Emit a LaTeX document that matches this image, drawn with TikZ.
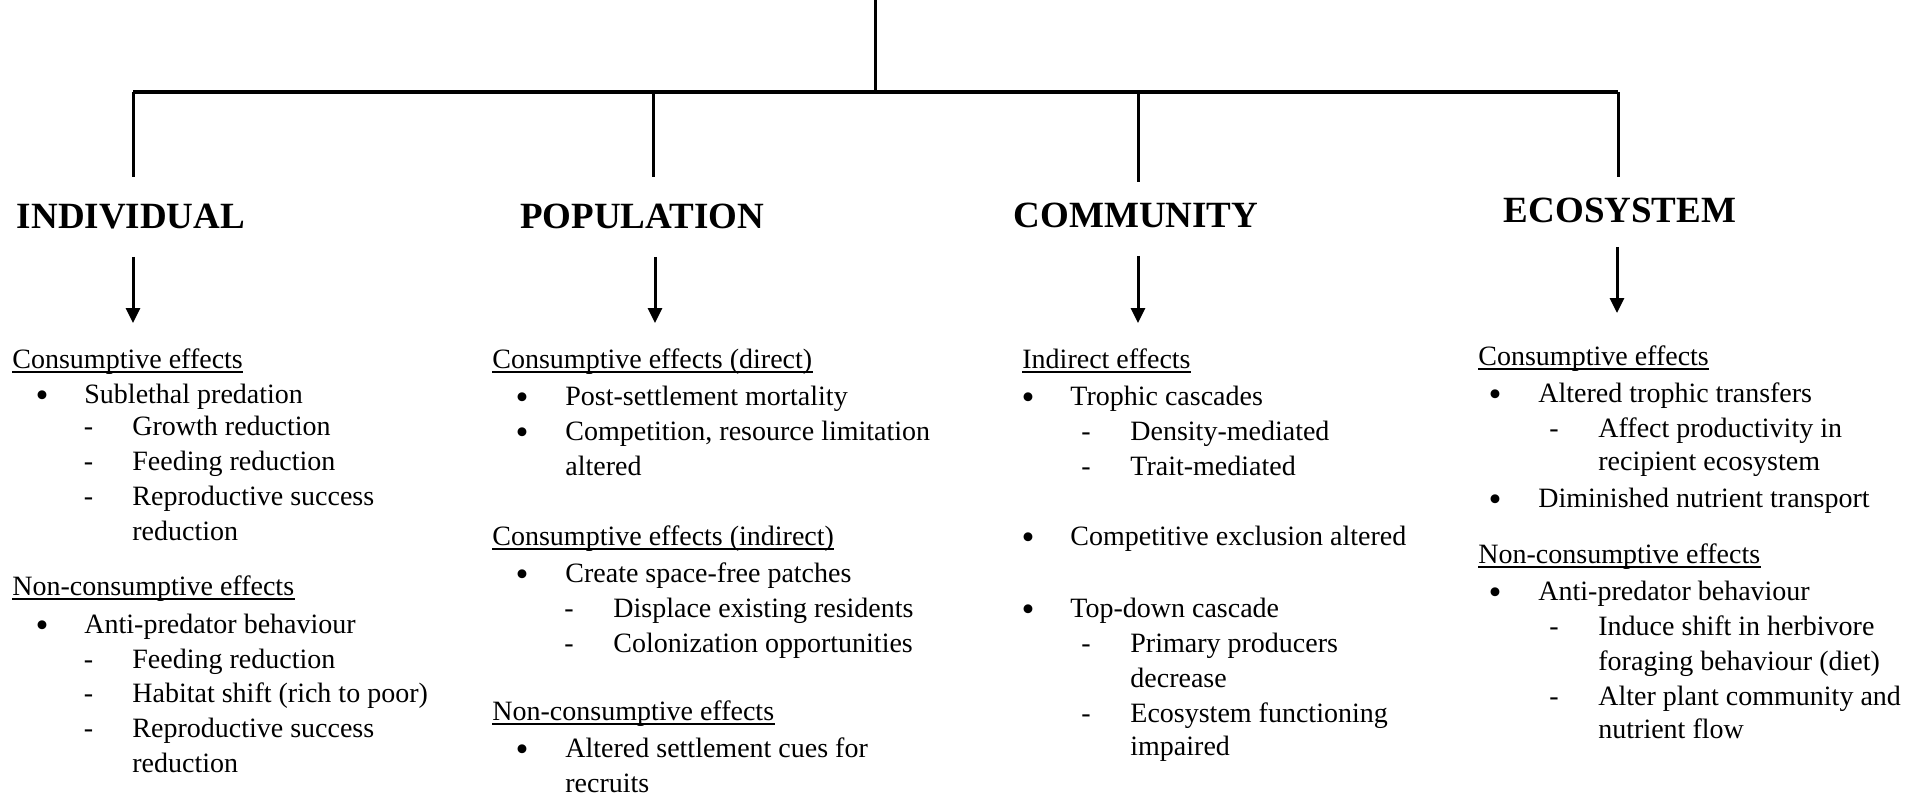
\documentclass[tikz,border=0pt]{standalone}
\usepackage{fontspec}
\setmainfont{Liberation Serif}
\usetikzlibrary{arrows.meta}
\begin{document}
\begin{tikzpicture}[x=0.5pt,y=-0.5pt,
  hd/.style={anchor=base,inner sep=0pt,font=\fontsize{18.5}{22}\selectfont\bfseries},
  tx/.style={anchor=base west,inner sep=0pt,font=\fontsize{14}{17}\selectfont},
  mk/.style={anchor=base,inner sep=0pt,font=\fontsize{14}{17}\selectfont},
  bl/.style={anchor=base,inner sep=0pt,font=\fontsize{18.5}{20}\selectfont,yshift=-2pt},
  ul/.style={line width=0.8pt},
  trunk/.style={line width=2pt},
  branch/.style={line width=1.5pt},
  arr/.style={line width=1.5pt,-{Triangle[length=7.5pt,width=7pt]}}]
\useasboundingbox (0,0) rectangle (1921,797);

% headings
\node[hd] (ind) at (131,228) {INDIVIDUAL};
\node[hd] (pop) at (642,228) {POPULATION};
\node[hd] (com) at (1136,227) {COMMUNITY};
\node[hd] (eco) at (1620,222) {ECOSYSTEM};

% tree
\coordinate (top) at (875,0);
\coordinate (j) at (875,92);
\coordinate (bi) at (133,92);
\coordinate (bp) at (653,92);
\coordinate (bc) at (1138,92);
\coordinate (be) at (1618,92);
\draw[branch] (top) -- (j);
\draw[trunk] (bi) -- (be);
\draw[branch,shorten >=13.25pt] (bi) -- (bi |- ind.north);
\draw[branch,shorten >=13.25pt] (bp) -- (bp |- pop.north);
\draw[branch,shorten >=10.25pt] (bc) -- (bc |- com.north);
\draw[branch,shorten >=10.25pt] (be) -- (be |- eco.north);

% arrows
\coordinate (ia) at (133,323);
\coordinate (pa) at (655,323);
\coordinate (ca) at (1138,323);
\coordinate (ea) at (1617,313);
\draw[arr,shorten <=14pt] (ia |- ind.south) -- (ia);
\draw[arr,shorten <=14pt] (pa |- pop.south) -- (pa);
\draw[arr,shorten <=14pt] (ca |- com.south) -- (ca);
\draw[arr,shorten <=12pt] (ea |- eco.south) -- (ea);

% ---------- column 1 ----------
\node[tx] (a1) at (12,368) {Consumptive effects};
\node[bl] (a2b) at (42,403) {•};
\node[tx] (a2) at (84,403) {Sublethal predation};
\node[mk] (a3d) at (88.5,435) {-};
\node[tx] (a3) at (132,435) {Growth reduction};
\node[mk] (a4d) at (88.5,470) {-};
\node[tx] (a4) at (132,470) {Feeding reduction};
\node[mk] (a5d) at (88.5,505) {-};
\node[tx] (a5) at (132,505) {Reproductive success};
\node[tx] (a6) at (132,540) {reduction};
\node[tx] (a7) at (12,595) {Non-consumptive effects};
\node[bl] (a8b) at (42,633) {•};
\node[tx] (a8) at (84,633) {Anti-predator behaviour};
\node[mk] (a9d) at (88.5,668) {-};
\node[tx] (a9) at (132,668) {Feeding reduction};
\node[mk] (a10d) at (88.5,702) {-};
\node[tx] (a10) at (132,702) {Habitat shift (rich to poor)};
\node[mk] (a11d) at (88.5,737) {-};
\node[tx] (a11) at (132,737) {Reproductive success};
\node[tx] (a12) at (132,772) {reduction};
\draw[ul] ([yshift=-2pt]a1.base west) -- ([yshift=-2pt]a1.base east);
\draw[ul] ([yshift=-2pt]a7.base west) -- ([yshift=-2pt]a7.base east);

% ---------- column 2 ----------
\node[tx] (b1) at (492,368) {Consumptive effects (direct)};
\node[bl] (b2b) at (522,405) {•};
\node[tx] (b2) at (565,405) {Post-settlement mortality};
\node[bl] (b3b) at (522,440) {•};
\node[tx] (b3) at (565,440) {Competition, resource limitation};
\node[tx] (b4) at (565,475) {altered};
\node[tx] (b5) at (492,545) {Consumptive effects (indirect)};
\node[bl] (b6b) at (522,582) {•};
\node[tx] (b6) at (565,582) {Create space-free patches};
\node[mk] (b7d) at (569,617) {-};
\node[tx] (b7) at (613,617) {Displace existing residents};
\node[mk] (b8d) at (569,652) {-};
\node[tx] (b8) at (613,652) {Colonization opportunities};
\node[tx] (b9) at (492,720) {Non-consumptive effects};
\node[bl] (b10b) at (522,757) {•};
\node[tx] (b10) at (565,757) {Altered settlement cues for};
\node[tx] (b11) at (565,792) {recruits};
\draw[ul] ([yshift=-2pt]b1.base west) -- ([yshift=-2pt]b1.base east);
\draw[ul] ([yshift=-2pt]b5.base west) -- ([yshift=-2pt]b5.base east);
\draw[ul] ([yshift=-2pt]b9.base west) -- ([yshift=-2pt]b9.base east);

% ---------- column 3 ----------
\node[tx] (c1) at (1022,368) {Indirect effects};
\node[bl] (c2b) at (1028,405) {•};
\node[tx] (c2) at (1070,405) {Trophic cascades};
\node[mk] (c3d) at (1086,440) {-};
\node[tx] (c3) at (1130,440) {Density-mediated};
\node[mk] (c4d) at (1086,475) {-};
\node[tx] (c4) at (1130,475) {Trait-mediated};
\node[bl] (c5b) at (1028,545) {•};
\node[tx] (c5) at (1070,545) {Competitive exclusion altered};
\node[bl] (c6b) at (1028,617) {•};
\node[tx] (c6) at (1070,617) {Top-down cascade};
\node[mk] (c7d) at (1086,652) {-};
\node[tx] (c7) at (1130,652) {Primary producers};
\node[tx] (c8) at (1130,687) {decrease};
\node[mk] (c9d) at (1086,722) {-};
\node[tx] (c9) at (1130,722) {Ecosystem functioning};
\node[tx] (c10) at (1130,755) {impaired};
\draw[ul] ([yshift=-2pt]c1.base west) -- ([yshift=-2pt]c1.base east);

% ---------- column 4 ----------
\node[tx] (d1) at (1478,365) {Consumptive effects};
\node[bl] (d2b) at (1495,402) {•};
\node[tx] (d2) at (1538,402) {Altered trophic transfers};
\node[mk] (d3d) at (1554,437) {-};
\node[tx] (d3) at (1598,437) {Affect productivity in};
\node[tx] (d4) at (1598,470) {recipient ecosystem};
\node[bl] (d5b) at (1495,507) {•};
\node[tx] (d5) at (1538,507) {Diminished nutrient transport};
\node[tx] (d6) at (1478,563) {Non-consumptive effects};
\node[bl] (d7b) at (1495,600) {•};
\node[tx] (d7) at (1538,600) {Anti-predator behaviour};
\node[mk] (d8d) at (1554,635) {-};
\node[tx] (d8) at (1598,635) {Induce shift in herbivore};
\node[tx] (d9) at (1598,670) {foraging behaviour (diet)};
\node[mk] (d10d) at (1554,705) {-};
\node[tx] (d10) at (1598,705) {Alter plant community and};
\node[tx] (d11) at (1598,738) {nutrient flow};
\draw[ul] ([yshift=-2pt]d1.base west) -- ([yshift=-2pt]d1.base east);
\draw[ul] ([yshift=-2pt]d6.base west) -- ([yshift=-2pt]d6.base east);
\end{tikzpicture}
\end{document}
